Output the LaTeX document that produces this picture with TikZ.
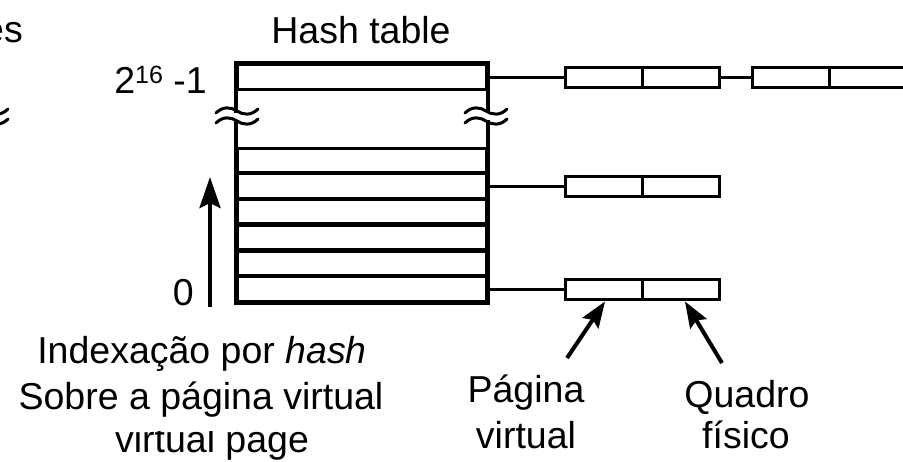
\documentclass[tikz,border=0pt]{standalone}
\usepackage{fontspec}
\setmainfont{Liberation Sans}
\usetikzlibrary{arrows.meta,calc}
\tikzset{
  lbl/.style={inner sep=0pt, font=\fontsize{37.5}{45}\selectfont},
  slotrow/.style={draw, line width=3pt, minimum width=249pt, minimum height=24.5pt, inner sep=0pt},
  cell/.style={draw, line width=3pt, minimum width=77pt, minimum height=20pt, inner sep=0pt},
  link/.style={line width=3pt},
  pointer/.style={line width=4pt, -{Stealth[length=26pt, width=19pt, inset=4pt]}},
  breakmark/.pic={
    \fill[white] (-4,-3.5) rectangle (4,3.5);
    \foreach \dy in {-5,5}{
      \draw[line width=3pt, line cap=round]
        (-21,\dy+2) .. controls (-14,\dy-5) and (-6,\dy-4) .. (0,\dy)
        .. controls (6,\dy+4) and (14,\dy+5) .. (21,\dy-2);
    }
  }
}
\begin{document}
\begin{tikzpicture}[x=1pt, y=-1pt]
  \useasboundingbox (0,0) rectangle (903,461);
  \clip (0,0) rectangle (903,461);

  % title and partial labels at the left edge
  \node[lbl, anchor=base] (title) at (361,43) {Hash table};
  \node[lbl, anchor=base east] (edge) at (23,42) {es};
  \pic at (-13,116) {breakmark};

  % hash table rows
  \node[slotrow] (top) at (361.5,77) {};
  \node[slotrow] (r1) at (361.5,160.5) {};
  \node[slotrow] (r2) at (361.5,186) {};
  \node[slotrow] (r3) at (361.5,211.5) {};
  \node[slotrow] (r4) at (361.5,237.5) {};
  \node[slotrow] (r5) at (361.5,263.5) {};
  \node[slotrow] (r6) at (361.5,289) {};
  \draw[line width=4pt] (top.north west) rectangle (r6.south east);
  \pic at (237,116) {breakmark};
  \pic at (486,116) {breakmark};

  % index labels and direction arrow
  \node[lbl, anchor=base east] (hi) at (207,93)
    {2\raisebox{10pt}{\fontsize{25}{25}\selectfont 16} -1};
  \node[lbl, anchor=base east] (lo) at (194,305) {0};
  \coordinate (up0) at (210,307);
  \coordinate (up1) at (210,177);
  \draw[line width=4pt, -{Stealth[length=31pt, width=21pt, inset=5pt]}] (up0) -- (up1);

  % chained entries: virtual page | page frame
  \node[cell] (e1a) at (604,77) {};
  \node[cell] (e1b) at (681,77) {};
  \node[cell] (e1c) at (790.5,77) {};
  \node[cell] (e1d) at (867.5,77) {};
  \node[cell] (e2a) at (604,186) {};
  \node[cell] (e2b) at (681,186) {};
  \node[cell] (e3a) at (604,289) {};
  \node[cell] (e3b) at (681,289) {};

  \draw[link] (top.east) -- (e1a.west);
  \draw[link] (e1b.east) -- (e1c.west);
  \draw[link] (r2.east) -- (e2a.west);
  \draw[link] (r6.east) -- (e3a.west);

  % field labels
  \node[lbl, anchor=base] (pg1) at (526,402) {Página};
  \node[lbl, anchor=base] (pg2) at (526,448) {virtual};
  \node[lbl, anchor=base] (qd1) at (747,407) {Quadro};
  \node[lbl, anchor=base] (qd2) at (746,448) {físico};
  \coordinate (pgfoot) at (567,358);
  \coordinate (qdfoot) at (722,363);
  \draw[pointer] (pgfoot) -- ($(e3a.south)+(1,1)$);
  \draw[pointer] (qdfoot) -- ($(e3b.south)+(4,1)$);

  % caption under the table
  \node[lbl, anchor=base] (idx1) at (202,363) {Indexação por \textit{hash}};
  \node[lbl, anchor=base] (idx2) at (201,409) {Sobre a página virtual};
  \begin{scope}
    \clip (0,431) rectangle (903,461);
    \node[lbl, anchor=base] (idx3) at (212,452) {virtual page};
  \end{scope}
\end{tikzpicture}
\end{document}
